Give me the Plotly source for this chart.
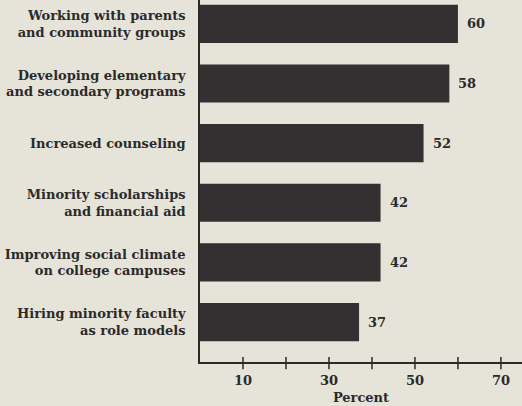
import plotly.graph_objects as go

categories = [
    "Working with parents<br>and community groups",
    "Developing elementary<br>and secondary programs",
    "Increased counseling",
    "Minority scholarships<br>and financial aid",
    "Improving social climate<br>on college campuses",
    "Hiring minority faculty<br>as role models",
]
values = [60, 58, 52, 42, 42, 37]
tick_values = [10, 20, 30, 40, 50, 60, 70]
tick_labels = ["10", "", "30", "", "50", "", "70"]

BG = "#e6e3d9"
INK = "#2b2a2b"
FONT = "DejaVu Serif"
FS = 13

fig = go.Figure()
fig.add_trace(go.Bar(
    x=values, y=categories, orientation="h",
    marker=dict(color="#323031", line=dict(width=0)),
    width=0.64, hoverinfo="skip",
))

for c, v in zip(categories, values):
    fig.add_annotation(x=v, y=c, text=f"<b>{v}</b>", showarrow=False,
                       xanchor="left", xshift=7,
                       font=dict(family=FONT, size=FS, color=INK))

# tick marks crossing the axis line
for t in tick_values:
    fig.add_shape(type="line", xref="x", yref="paper", x0=t, x1=t,
                  y0=-0.020, y1=0.014, line=dict(color=INK, width=1.5))

fig.update_layout(
    width=522, height=406,
    margin=dict(l=200, r=0, t=0, b=44),
    paper_bgcolor=BG, plot_bgcolor=BG,
    showlegend=False,
    font=dict(family=FONT, size=FS, color=INK),
    xaxis=dict(range=[0, 74.9], tickvals=tick_values,
               ticktext=[f"<b>{t}</b>" if t else "" for t in tick_labels],
               ticks="", showgrid=False, zeroline=False, showline=True,
               linecolor=INK, linewidth=1.5, automargin=False,
               ticklabelstandoff=6,
               title=dict(text="<b>Percent</b>", standoff=6, font=dict(size=FS)),
               tickfont=dict(size=FS)),
    yaxis=dict(categoryorder="array", categoryarray=list(reversed(categories)),
               range=[-0.67, 5.40], showgrid=False, zeroline=False, showline=True,
               linecolor=INK, linewidth=1.5, ticks="", ticklabelstandoff=10,
               automargin=False,
               tickfont=dict(size=FS, weight="bold")),
)

fig.write_html(
    "out.html",
    config={"displayModeBar": False},
    post_script="document.body.style.margin='0';document.body.style.overflow='hidden';"
                "document.body.style.background='%s';" % BG,
)
